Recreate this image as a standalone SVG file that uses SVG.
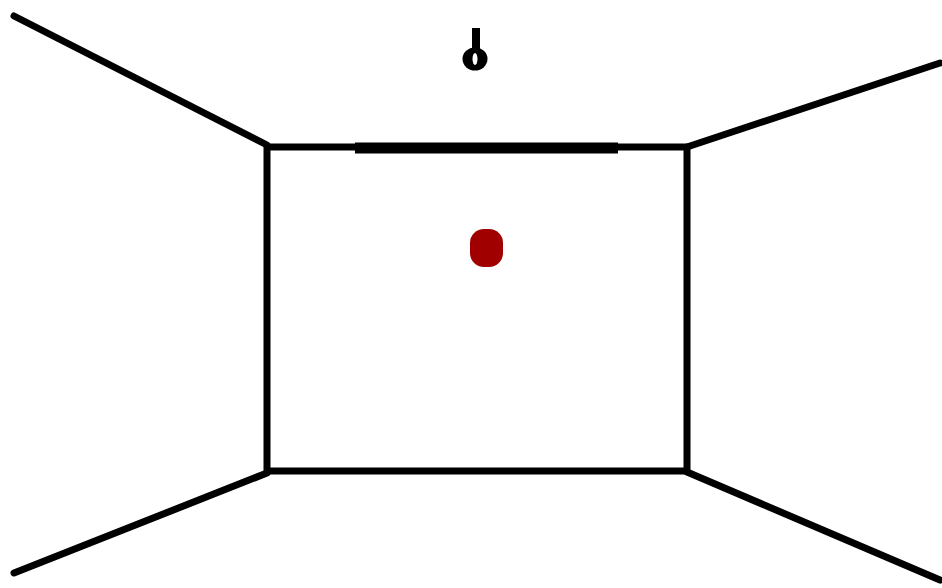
<svg xmlns="http://www.w3.org/2000/svg" width="942" height="588" viewBox="0 0 942 588">
<style>
.ln{stroke:#000;stroke-width:7;fill:none;stroke-linecap:round;stroke-linejoin:miter}
</style>
<rect width="942" height="588" fill="#fff"/>
<g id="walls">
<line class="ln" x1="14" y1="16" x2="267" y2="145"/>
<line class="ln" x1="940" y1="63" x2="687" y2="147"/>
<line class="ln" x1="14" y1="573" x2="267" y2="473"/>
<line class="ln" x1="940" y1="580" x2="687" y2="472"/>
<rect class="ln" x="267" y="147" width="420" height="324" stroke-linecap="butt"/>
<line x1="355" y1="148" x2="618" y2="148" stroke="#000" stroke-width="11"/>
</g>
<g id="lamp">
<rect x="472" y="28" width="8" height="22" fill="#000"/>
<ellipse cx="475" cy="59" rx="12.5" ry="11.5" fill="#000"/>
<ellipse cx="475" cy="59" rx="2.5" ry="6" fill="#fff"/>
</g>
<g id="dot">
<rect x="470" y="229" width="33" height="38" rx="14" ry="14" fill="#a00000"/>
</g>
</svg>
